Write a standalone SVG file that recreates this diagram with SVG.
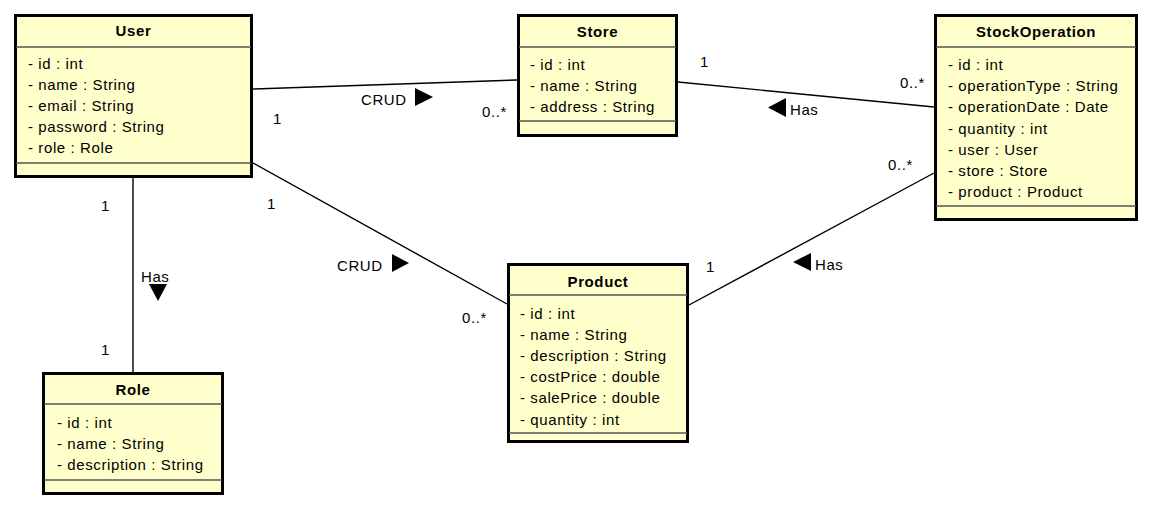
<svg xmlns="http://www.w3.org/2000/svg" width="1153" height="508" viewBox="0 0 1153 508">
<style>
.box{fill:#ffffcc;stroke:#000;stroke-width:3}
.sep{stroke:#555;stroke-width:1.3}
.t{font-family:"Liberation Sans",Arial,sans-serif;font-size:15px;letter-spacing:0.6px;fill:#000}
.title{font-weight:bold;text-anchor:middle}
.ln{stroke:#000;stroke-width:1.4;fill:none}
.tri{fill:#000}
</style>
<rect width="1153" height="508" fill="#fff"/>
<g id="connectors">
<line class="ln" x1="253" y1="89" x2="517" y2="80"/>
<line class="ln" x1="253" y1="163" x2="507" y2="304"/>
<line class="ln" x1="133" y1="178" x2="133" y2="372"/>
<line class="ln" x1="678" y1="82" x2="934" y2="107"/>
<line class="ln" x1="689" y1="305" x2="934" y2="173"/>
<polygon class="tri" points="415,88 433,97 415,106"/>
<polygon class="tri" points="392,254 409,263 392,272"/>
<polygon class="tri" points="786,98 768,107.5 786,117"/>
<polygon class="tri" points="811,253 793,262 811,271"/>
<polygon class="tri" points="149,284 167,284 158,301"/>
<text class="t" x="361" y="105">CRUD</text>
<text class="t" x="273" y="124">1</text>
<text class="t" x="482" y="117">0..*</text>
<text class="t" x="337" y="271">CRUD</text>
<text class="t" x="267" y="209">1</text>
<text class="t" x="462" y="323">0..*</text>
<text class="t" x="700" y="67">1</text>
<text class="t" x="900" y="88">0..*</text>
<text class="t" x="790" y="115">Has</text>
<text class="t" x="706" y="272">1</text>
<text class="t" x="888" y="170">0..*</text>
<text class="t" x="815" y="270">Has</text>
<text class="t" x="101" y="211">1</text>
<text class="t" x="101" y="355">1</text>
<text class="t" x="141" y="282">Has</text>
</g>
<g id="User">
<rect class="box" x="15.5" y="15.5" width="236" height="161"/>
<line class="sep" x1="16" y1="47" x2="251" y2="47"/>
<line class="sep" x1="16" y1="163" x2="251" y2="163"/>
<text class="t title" x="133.5" y="36">User</text>
<text class="t" x="28" y="69">- id : int</text>
<text class="t" x="28" y="90">- name : String</text>
<text class="t" x="28" y="111">- email : String</text>
<text class="t" x="28" y="132">- password : String</text>
<text class="t" x="28" y="153">- role : Role</text>
</g>
<g id="Store">
<rect class="box" x="518.5" y="15.5" width="158" height="120"/>
<line class="sep" x1="519" y1="47" x2="676" y2="47"/>
<line class="sep" x1="519" y1="121" x2="676" y2="121"/>
<text class="t title" x="597.5" y="37">Store</text>
<text class="t" x="530" y="70">- id : int</text>
<text class="t" x="530" y="91">- name : String</text>
<text class="t" x="530" y="112">- address : String</text>
</g>
<g id="StockOperation">
<rect class="box" x="935.5" y="15.5" width="201" height="204"/>
<line class="sep" x1="936" y1="47" x2="1136" y2="47"/>
<line class="sep" x1="936" y1="206" x2="1136" y2="206"/>
<text class="t title" x="1036" y="37">StockOperation</text>
<text class="t" x="948" y="70">- id : int</text>
<text class="t" x="948" y="91.2">- operationType : String</text>
<text class="t" x="948" y="112.4">- operationDate : Date</text>
<text class="t" x="948" y="133.6">- quantity : int</text>
<text class="t" x="948" y="154.8">- user : User</text>
<text class="t" x="948" y="176">- store : Store</text>
<text class="t" x="948" y="197.2">- product : Product</text>
</g>
<g id="Product">
<rect class="box" x="508.5" y="264.5" width="179" height="177"/>
<line class="sep" x1="509" y1="295" x2="687" y2="295"/>
<line class="sep" x1="509" y1="433" x2="687" y2="433"/>
<text class="t title" x="598" y="287">Product</text>
<text class="t" x="520" y="318.5">- id : int</text>
<text class="t" x="520" y="339.7">- name : String</text>
<text class="t" x="520" y="360.9">- description : String</text>
<text class="t" x="520" y="382.1">- costPrice : double</text>
<text class="t" x="520" y="403.3">- salePrice : double</text>
<text class="t" x="520" y="424.5">- quantity : int</text>
</g>
<g id="Role">
<rect class="box" x="43.5" y="373.5" width="179" height="120"/>
<line class="sep" x1="44" y1="404" x2="222" y2="404"/>
<line class="sep" x1="44" y1="480" x2="222" y2="480"/>
<text class="t title" x="133" y="395">Role</text>
<text class="t" x="57" y="428">- id : int</text>
<text class="t" x="57" y="449">- name : String</text>
<text class="t" x="57" y="470">- description : String</text>
</g>
</svg>
